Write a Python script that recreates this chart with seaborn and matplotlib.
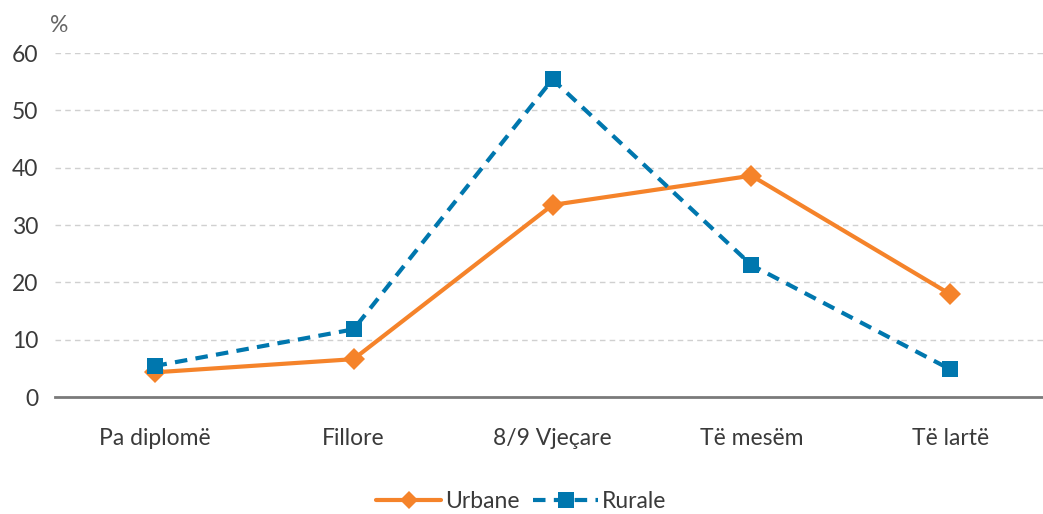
import pandas as pd
import matplotlib.pyplot as plt
import seaborn as sns
from matplotlib.lines import Line2D

categories = ["Pa diplomë", "Fillore", "8/9 Vjeçare", "Të mesëm", "Të lartë"]
urbane = [4.3, 6.6, 33.5, 38.6, 17.9]
rurale = [5.4, 11.8, 55.4, 23.0, 4.8]
series = ["Urbane", "Rurale"]
yticks = [0, 10, 20, 30, 40, 50, 60]

ORANGE = "#F5832A"
BLUE = "#0077AE"
TEXT = "#3a3a3a"

sns.set_style("white")
plt.rcParams["font.family"] = ["Lato", "DejaVu Sans"]

data = pd.DataFrame({
    "pos": list(range(len(categories))) * 2,
    "value": urbane + rurale,
    "Zona": [series[0]] * len(categories) + [series[1]] * len(categories),
})

fig = plt.figure(figsize=(10.43, 5.14), dpi=100)
ax = fig.add_axes([55 / 1043, 1 - 397 / 514, 995 / 1043, 344 / 514])

sns.lineplot(data=data, x="pos", y="value", hue="Zona", style="Zona",
             palette={"Urbane": ORANGE, "Rurale": BLUE},
             markers={"Urbane": "D", "Rurale": "s"},
             dashes={"Urbane": "", "Rurale": (3, 2)},
             linewidth=3, markersize=11, markeredgewidth=0,
             legend=False, ax=ax, zorder=3)

ax.set_xlim(-0.5, len(categories) - 0.5)
ax.set_ylim(0, 60)
ax.set_yticks(yticks)
ax.set_xticks(range(len(categories)))
ax.set_xticklabels(categories)
ax.set_xticks([i - 0.5 for i in range(len(categories) + 1)], minor=True)
ax.set_xlabel("")
ax.set_ylabel("")

ax.grid(axis="y", color="#d0d0d0", linestyle=(0, (4, 3)), linewidth=1)
ax.set_axisbelow(True)
for side in ["left", "right", "top"]:
    ax.spines[side].set_visible(False)
ax.spines["bottom"].set_color("#7a7a7a")
ax.spines["bottom"].set_linewidth(2)
ax.spines["bottom"].set_zorder(4)

ax.tick_params(axis="y", length=0, pad=12, labelsize=16.5, labelcolor=TEXT)
ax.tick_params(axis="x", which="major", length=0, pad=22, labelsize=16.5, labelcolor=TEXT)
ax.tick_params(axis="x", which="minor", length=6, width=1.5, color="#7a7a7a", direction="out")

fig.text(50 / 1043, 1 - 25 / 514, "%", fontsize=16.5, color="#666666", va="center")

handles = [
    Line2D([], [], color=ORANGE, lw=3, marker="D", markersize=9, markeredgewidth=0),
    Line2D([], [], color=BLUE, lw=3, linestyle=(0, (3, 2)), marker="s", markersize=11, markeredgewidth=0),
]
fig.legend(handles, series, loc="center", bbox_to_anchor=(0.5, 1 - 502 / 514), ncol=2,
           frameon=False, fontsize=16.5, labelcolor=TEXT, handlelength=2.8,
           handletextpad=0.2, columnspacing=0.6)

fig.savefig("out.png", dpi=100)
